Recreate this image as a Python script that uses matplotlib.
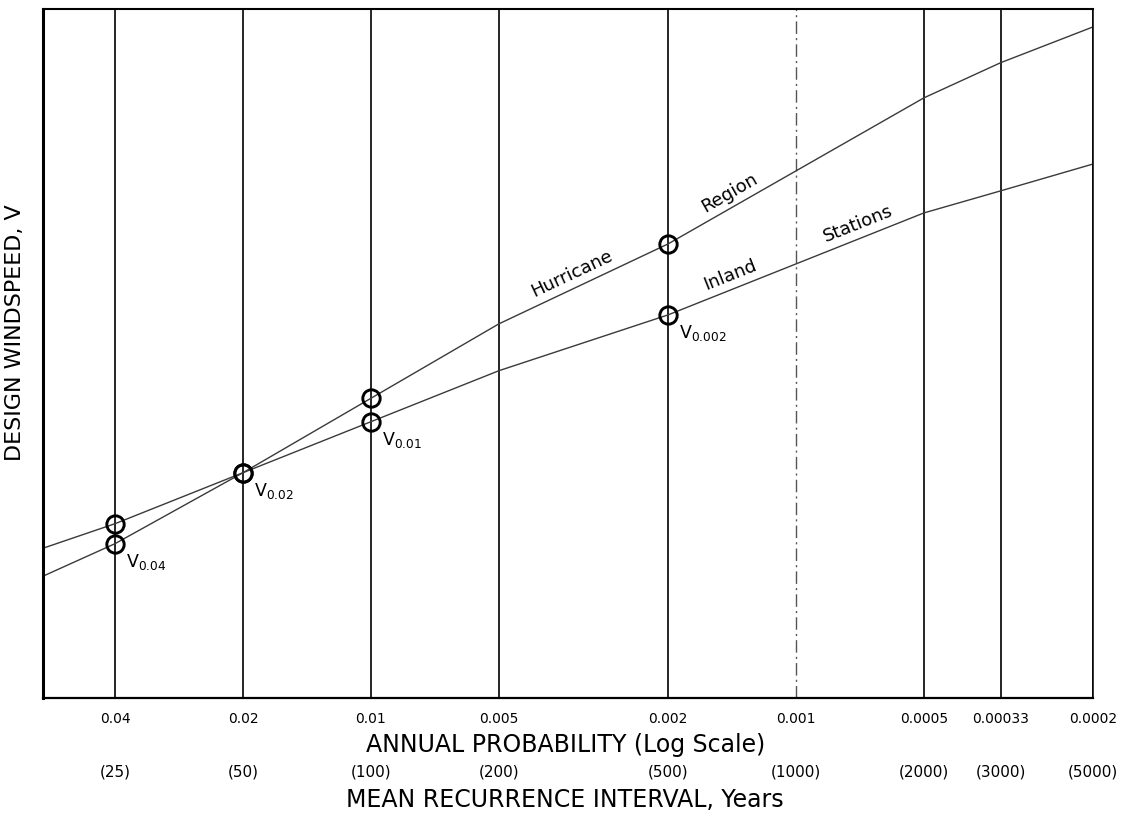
import numpy as np
import matplotlib.pyplot as plt
from matplotlib.ticker import NullLocator
from matplotlib.transforms import blended_transform_factory

plt.rcParams["font.family"] = ["DejaVu Sans"]

# annual probability gridlines and the matching mean recurrence intervals
probs = [0.04, 0.02, 0.01, 0.005, 0.002, 0.001, 0.0005, 0.00033, 0.0002]
prob_labels = ["0.04", "0.02", "0.01", "0.005", "0.002", "0.001", "0.0005", "0.00033", "0.0002"]
mri_labels = ["(25)", "(50)", "(100)", "(200)", "(500)", "(1000)", "(2000)", "(3000)", "(5000)"]

# design windspeed curves, relative units (the V axis carries no scale)
curve_probs = [0.06, 0.04, 0.02, 0.01, 0.005, 0.002, 0.001, 0.0005, 0.00033, 0.0002]
hurricane_v = [17.5, 22.4, 32.7, 43.5, 54.3, 65.9, 76.5, 87.1, 92.2, 97.4]
inland_v = [21.6, 25.3, 32.7, 40.1, 47.5, 55.6, 63.0, 70.4, 73.6, 77.5]

# design points that get a circle
design_probs = [0.04, 0.02, 0.01, 0.002]
design_labels = ["0.04", "0.02", "0.01", "0.002"]


fig = plt.figure(figsize=(11.42, 8.18), dpi=100)
ax = fig.add_axes([43 / 1142, 1 - 698 / 818, 1050 / 1142, 689 / 818])
ax.set_xscale("log")
ax.set_xlim(0.0591, 0.0002)
ax.set_ylim(0, 100)

for p in probs:
    if p == 0.001:
        ax.axvline(p, color="#555555", lw=1.0, ls=(0, (9, 3, 1.5, 3)))
    else:
        ax.axvline(p, color="black", lw=1.2)

ax.plot(curve_probs, hurricane_v, color="#3a3a3a", lw=1.0)
ax.plot(curve_probs, inland_v, color="#3a3a3a", lw=1.0)

idx = [curve_probs.index(p) for p in design_probs]
for series in (hurricane_v, inland_v):
    ax.plot(design_probs, [series[i] for i in idx], "o", ms=12.5,
            mfc="none", mec="black", mew=2.1)

# V labels sit beside the lower circle at each design point
for p, lab, i in zip(design_probs, design_labels, idx):
    v = min(hurricane_v[i], inland_v[i])
    ax.annotate("V$_{\\mathregular{" + lab + "}}$", (p, v), xytext=(8, -6),
                textcoords="offset points", ha="left", va="top", fontsize=12.5)


def line_label(series, p, text):
    lx = np.log10(curve_probs)[::-1]
    ys = np.array(series)[::-1]
    y = np.interp(np.log10(p), lx, ys)
    pa, pb = p * 1.2, p / 1.2
    ya = np.interp(np.log10(pa), lx, ys)
    yb = np.interp(np.log10(pb), lx, ys)
    (xa, ya_d), (xb, yb_d) = ax.transData.transform([(pa, ya), (pb, yb)])
    ang = np.degrees(np.arctan2(yb_d - ya_d, xb - xa))
    ax.annotate(text, (p, y), xytext=(0, 4), textcoords="offset points",
                rotation=ang, rotation_mode="anchor", ha="center", va="bottom",
                fontsize=13)


line_label(hurricane_v, 0.0033, "Hurricane")
line_label(hurricane_v, 0.0014, "Region")
line_label(inland_v, 0.0014, "Inland")
line_label(inland_v, 0.0007, "Stations")

ax.set_yticks([])
ax.set_xticks(probs, prob_labels)
ax.xaxis.set_minor_locator(NullLocator())
ax.tick_params(axis="x", length=0, pad=10, labelsize=10)
for side, w in (("left", 2.2), ("bottom", 1.6), ("top", 1.5), ("right", 1.1)):
    ax.spines[side].set_linewidth(w)

trans = blended_transform_factory(ax.transData, fig.transFigure)
for p, lab in zip(probs, mri_labels):
    ax.text(p, 1 - 772 / 818, lab, transform=trans, ha="center", va="center",
            fontsize=11)

fig.text(0.495, 1 - 745 / 818, "ANNUAL PROBABILITY (Log Scale)",
         ha="center", va="center", fontsize=17)
fig.text(0.495, 1 - 800 / 818, "MEAN RECURRENCE INTERVAL, Years",
         ha="center", va="center", fontsize=17)
fig.text(15 / 1142, 1 - 333 / 818, "DESIGN WINDSPEED, V", rotation=90,
         ha="center", va="center", fontsize=16)

fig.savefig("out.png", dpi=100)
